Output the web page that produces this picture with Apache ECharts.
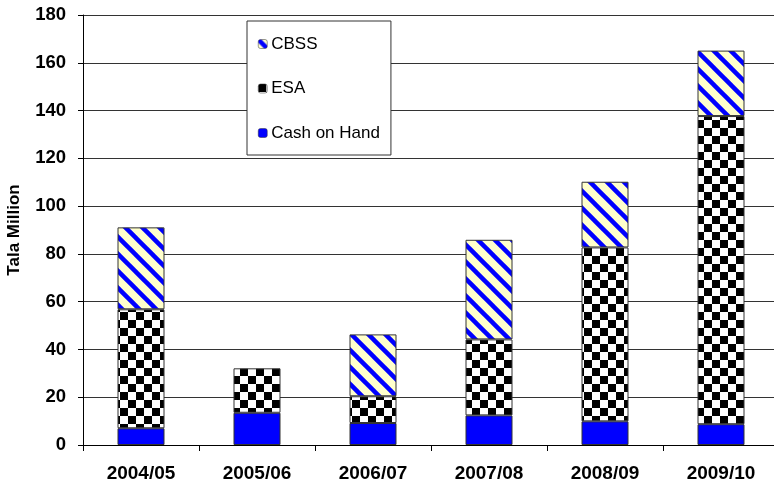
<!DOCTYPE html>
<html>
<head>
<meta charset="utf-8">
<script src="https://cdn.jsdelivr.net/npm/echarts@6/dist/echarts.min.js"></script>
<style>
html,body{margin:0;padding:0;background:#fff;}
#chart{width:774px;height:484px;}
</style>
</head>
<body>
<div id="chart"></div>
<script>
// ---- data ----
var categories = ['2004/05', '2005/06', '2006/07', '2007/08', '2008/09', '2009/10'];
var cashOnHand = [7.0, 13.5, 9.2, 12.4, 9.9, 8.7];
var esa = [49.8, 18.6, 11.2, 31.8, 72.8, 129.0];
var cbss = [34.3, null, 25.9, 41.7, 27.5, 27.4];
var yTicks = [0, 20, 40, 60, 80, 100, 120, 140, 160, 180];
var legendOrder = ['CBSS', 'ESA', 'Cash on Hand'];

// ---- patterns ----
function makeChecker() {
  var c = document.createElement('canvas');
  var s = 8;
  c.width = 2 * s; c.height = 2 * s;
  var g = c.getContext('2d');
  g.fillStyle = '#ffffff';
  g.fillRect(0, 0, 2 * s, 2 * s);
  g.fillStyle = '#000000';
  g.fillRect(0, 0, s, s);
  g.fillRect(s, s, s, s);
  return c;
}
function makeStripes() {
  var c = document.createElement('canvas');
  var T = 17;
  c.width = T; c.height = T;
  var g = c.getContext('2d');
  g.fillStyle = '#FFFFCC';
  g.fillRect(0, 0, T, T);
  g.strokeStyle = '#0000FF';
  g.lineWidth = 4.5;
  for (var k = -T; k <= T; k += T) {
    g.beginPath();
    g.moveTo(k - 2, -2);
    g.lineTo(k + T + 2, T + 2);
    g.stroke();
  }
  return c;
}
var checker = makeChecker();
var stripes = makeStripes();

var font = '"Liberation Sans", Arial, sans-serif';
var chart = echarts.init(document.getElementById('chart'), null, {renderer: 'canvas'});

var barCommon = {
  type: 'bar',
  stack: 'total',
  barWidth: 47,
  emphasis: {disabled: true}
};

chart.setOption({
  animation: false,
  backgroundColor: '#ffffff',
  grid: {left: 83, top: 15, width: 696, height: 430, containLabel: false, outerBoundsMode: 'none'},
  legend: {
    data: legendOrder,
    orient: 'vertical',
    left: 247,
    top: 21,
    itemWidth: 9,
    itemHeight: 9,
    itemGap: 24.5,
    padding: [13, 11, 12, 11],
    backgroundColor: '#ffffff',
    borderColor: '#333333',
    borderWidth: 1,
    textStyle: {fontFamily: font, fontSize: 17, color: '#000', lineHeight: 20, padding: [0, 0, 0, -1]},
    itemStyle: {borderColor: '#333', borderWidth: 0.5}
  },
  xAxis: {
    type: 'category',
    data: categories,
    axisLine: {lineStyle: {color: '#000', width: 1}},
    axisTick: {show: true, length: 6, lineStyle: {color: '#000'}},
    axisLabel: {fontFamily: font, fontSize: 19, fontWeight: 'bold', color: '#000', margin: 19}
  },
  yAxis: {
    type: 'value',
    min: yTicks[0],
    max: yTicks[yTicks.length - 1],
    interval: yTicks[1] - yTicks[0],
    name: 'Tala Million',
    nameLocation: 'middle',
    nameGap: 60,
    nameRotate: 90,
    nameTextStyle: {fontFamily: font, fontSize: 17, fontWeight: 'bold', color: '#000'},
    axisLine: {show: true, lineStyle: {color: '#000', width: 1}},
    axisTick: {show: true, length: 5, lineStyle: {color: '#000'}},
    axisLabel: {fontFamily: font, fontSize: 18.5, fontWeight: 'bold', color: '#000', margin: 17},
    splitLine: {show: true, lineStyle: {color: '#333333', width: 1}}
  },
  series: [
    Object.assign({}, barCommon, {
      name: 'Cash on Hand',
      data: cashOnHand,
      itemStyle: {color: '#0000FF', borderColor: '#333333', borderWidth: 1}
    }),
    Object.assign({}, barCommon, {
      name: 'ESA',
      data: esa,
      itemStyle: {color: {image: checker, repeat: 'repeat'}, borderColor: '#333333', borderWidth: 1}
    }),
    Object.assign({}, barCommon, {
      name: 'CBSS',
      data: cbss,
      itemStyle: {color: {image: stripes, repeat: 'repeat'}, borderColor: '#333333', borderWidth: 1}
    })
  ]
});
</script>
</body>
</html>
